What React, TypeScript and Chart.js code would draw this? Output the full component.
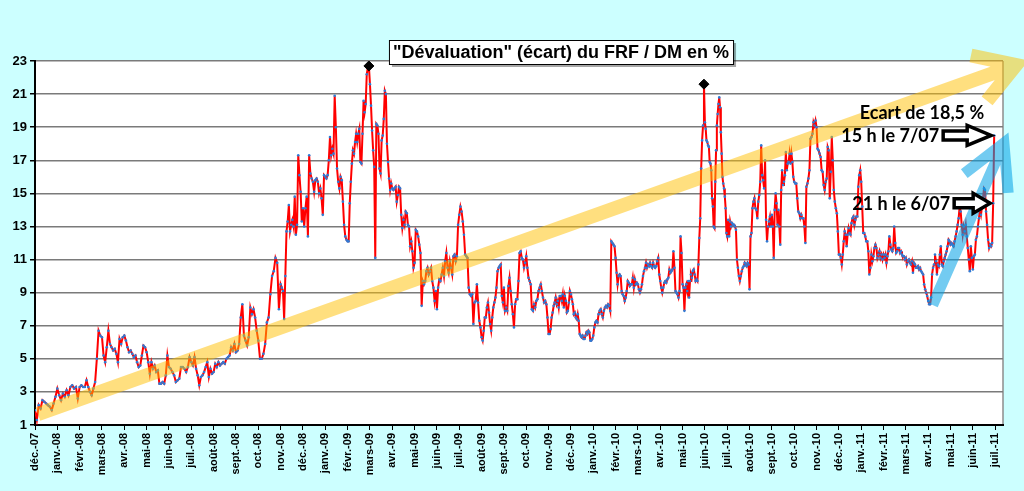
import { useEffect, useRef } from 'react';
import Chart from 'chart.js/auto';

// month ticks, déc. 2007 -> juil. 2011
const monthLabels = [
  'déc.-07',
  'janv.-08', 'févr.-08', 'mars-08', 'avr.-08', 'mai-08', 'juin-08',
  'juil.-08', 'août-08', 'sept.-08', 'oct.-08', 'nov.-08', 'déc.-08',
  'janv.-09', 'févr.-09', 'mars-09', 'avr.-09', 'mai-09', 'juin-09',
  'juil.-09', 'août-09', 'sept.-09', 'oct.-09', 'nov.-09', 'déc.-09',
  'janv.-10', 'févr.-10', 'mars-10', 'avr.-10', 'mai-10', 'juin-10',
  'juil.-10', 'août-10', 'sept.-10', 'oct.-10', 'nov.-10', 'déc.-10',
  'janv.-11', 'févr.-11', 'mars-11', 'avr.-11', 'mai-11', 'juin-11',
  'juil.-11',
];

const yTicks = [1, 3, 5, 7, 9, 11, 13, 15, 17, 19, 21, 23];

// écart FRF / DM in %, readings spread over each month
const readings2007 = [
  [1.9, 1.3, 2.2, 2.0, 2.5, 2.4, 2.3, 2.2, 2.1, 1.9, 2.3, 2.7],
];

const readings2008 = [
  [3.2, 2.8, 2.5, 2.9, 2.7, 3.1, 2.8, 3.3, 3.4, 3.2, 3.3, 2.6],
  [3.3, 3.4, 3.3, 3.3, 3.7, 3.3, 3.0, 2.8, 3.2, 3.6, 5.0, 6.7, 6.4],
  [6.3, 5.2, 4.8, 5.7, 6.7, 5.9, 5.7, 5.5, 5.6, 5.3, 4.8, 6.2, 5.9, 6.3],
  [6.4, 6.1, 5.7, 5.4, 5.5, 5.3, 5.1, 5.2, 4.8, 4.5, 4.6, 5.2, 5.8, 5.7],
  [5.4, 4.8, 4.1, 4.8, 4.4, 4.6, 4.2, 4.3, 3.5, 3.5, 3.6, 3.5, 4.0, 5.2],
  [4.5, 4.4, 4.2, 4.0, 3.6, 3.7, 3.8, 4.5, 4.5, 4.4, 4.2, 4.5, 5.1],
  [4.8, 4.6, 5.1, 4.4, 4.0, 3.4, 3.9, 4.0, 4.2, 4.5, 4.8, 3.9, 4.4, 4.1],
  [4.2, 4.7, 4.5, 4.8, 4.6, 4.7, 4.8, 4.7, 5.0, 5.1, 5.2, 5.7, 5.5, 5.9],
  [5.4, 5.5, 5.9, 7.5, 8.3, 6.4, 6.1, 5.8, 6.3, 8.1, 7.7, 8.0, 7.5, 6.7],
  [6.1, 5.0, 5.0, 5.3, 5.9, 7.2, 7.5, 8.9, 10.0, 10.3, 11.1, 10.8, 8.0],
  [9.5, 9.3, 9.1, 7.4, 10.0, 12.7, 13.3, 14.3, 12.7, 13.1, 13.4, 13.0, 14.8, 12.5, 13.1, 17.3, 16.1, 15.1, 13.3],
  [14.1, 13.0, 14.1, 14.8, 12.4, 17.3, 16.2, 15.9, 15.7, 15.1, 15.8, 15.9, 15.7, 15.0, 15.3, 14.7, 13.7, 16.1],
];

const readings2009 = [
  [16.0, 15.9, 16.1, 17.0, 18.4, 17.3, 17.7, 17.4, 20.9, 19.0, 16.5, 15.7, 15.3, 16.0, 15.8, 14.5, 13.1, 12.4, 12.2],
  [12.1, 12.1, 14.4, 15.7, 16.8, 17.6, 17.4, 18.1, 18.6, 18.1, 18.6, 18.9, 16.9, 16.8, 18.6, 20.6, 19.9, 20.4, 22.2, 22.6, 22.7],
  [21.6, 20.3, 18.8, 17.6, 16.6, 11.1, 19.2, 19.1, 18.6, 16.5, 16.2, 18.2, 18.5, 19.5, 21.2, 21.0, 18.0, 16.9, 15.9, 15.2, 15.6],
  [15.3, 15.2, 15.3, 15.4, 14.5, 14.9, 15.4, 15.3, 13.7, 12.9, 13.4, 13.1, 13.9, 13.8, 13.1, 13.0, 11.8, 12.1, 11.5, 10.5],
  [10.8, 12.8, 12.7, 12.4, 11.9, 11.4, 8.2, 9.7, 9.5, 9.7, 10.3, 10.5, 10.1, 10.3, 10.5, 9.7, 9.3, 8.5, 9.1],
  [8.0, 9.3, 9.8, 9.7, 10.1, 10.5, 10.0, 10.9, 11.4, 10.5, 10.2, 10.9, 10.5, 10.1, 11.2, 11.3, 10.9, 11.2, 13.1],
  [13.7, 14.2, 13.9, 13.3, 12.5, 11.3, 11.2, 11.1, 9.3, 8.9, 8.8, 8.9, 7.1, 8.4, 8.5, 9.5, 8.4, 7.3, 6.9],
  [6.3, 6.1, 6.7, 7.5, 7.5, 8.1, 8.4, 7.8, 7.1, 6.7, 7.5, 8.1, 8.4, 8.7, 9.3, 10.3, 10.5, 10.6, 10.7, 8.8, 8.4],
  [9.3, 7.9, 8.1, 7.9, 9.4, 9.9, 9.1, 8.3, 7.7, 6.9, 8.3, 8.6, 8.6, 9.7, 11.4, 11.5, 11.1, 11.0, 10.5, 10.8],
  [11.2, 10.5, 9.9, 9.7, 9.5, 8.0, 7.9, 8.3, 8.1, 8.5, 8.6, 9.1, 9.3, 9.5, 9.1, 8.7, 8.4, 8.5, 8.3, 7.5],
  [6.5, 6.5, 6.8, 7.5, 7.8, 8.2, 8.4, 8.7, 8.3, 8.5, 8.1, 8.8, 8.8, 8.5, 8.9, 8.1, 8.8, 8.5, 7.8, 7.9, 8.4, 9.1],
  [8.9, 8.6, 8.3, 7.7, 7.8, 7.5, 7.4, 7.7, 7.3, 6.5, 6.4, 6.3, 6.4, 6.2, 6.2, 6.4, 6.6, 6.5, 6.7, 6.6, 6.1, 6.1, 6.2],
];

const readings2010 = [
  [6.4, 6.9, 7.2, 7.3, 7.2, 7.7, 7.9, 8.0, 7.7, 7.5, 7.9, 8.1, 8.2, 8.1, 8.3, 8.2, 7.9, 12.1, 12.0, 11.9, 11.8],
  [11.1, 10.2, 9.5, 10.0, 10.1, 10.0, 9.1, 8.9, 8.8, 8.5, 8.7, 9.1, 9.7, 9.6, 9.4, 9.5, 9.5, 9.9, 9.3, 9.8, 9.5, 9.6],
  [9.5, 9.2, 9.0, 9.2, 9.5, 10.0, 10.3, 10.5, 10.8, 10.5, 10.7, 10.6, 10.8, 10.6, 10.5, 10.8, 10.6, 10.5, 10.6, 10.9, 11.1, 10.1],
  [9.7, 9.3, 9.0, 9.3, 9.6, 9.7, 9.6, 9.8, 9.9, 10.4, 10.2, 10.3, 10.4, 11.5, 10.5, 9.1, 9.0, 8.9, 8.7, 9.1, 12.4, 11.4],
  [9.5, 9.3, 7.9, 9.3, 9.5, 9.1, 9.7, 8.7, 9.7, 10.1, 9.9, 10.3, 10.4, 10.1, 9.7, 9.8, 9.7, 10.7, 12.3, 13.5, 16.5, 18.2, 19.1, 21.6],
  [19.3, 18.9, 18.2, 18.1, 17.9, 17.8, 16.9, 16.8, 16.4, 14.7, 14.2, 13.0, 12.9, 15.7, 17.6, 19.1, 19.8, 20.4, 20.8, 20.2, 18.7, 17.4, 16.0, 15.6, 15.3, 14.8, 14.1, 12.6],
  [12.4, 13.4, 12.4, 13.3, 13.0, 13.2, 13.1, 13.1, 13.0, 12.8, 11.0, 10.5, 10.0, 9.7, 10.0, 10.3, 10.5, 10.6, 10.8, 10.7, 10.6, 10.8, 10.7],
  [9.2, 12.4, 12.6, 14.1, 14.5, 14.7, 14.1, 14.0, 13.5, 14.5, 14.9, 15.7, 17.9, 16.1, 15.8, 15.3, 17.0, 13.4, 12.1, 13.0, 13.3, 13.6, 13.0],
  [13.7, 13.0, 11.1, 14.0, 15.0, 14.4, 13.1, 14.0, 13.0, 11.9, 15.2, 16.4, 15.5, 15.7, 16.1, 17.5, 16.4, 16.8, 16.9, 17.4, 16.8, 17.4, 16.9, 16.0],
  [15.7, 15.6, 15.6, 14.7, 13.9, 13.8, 13.5, 13.7, 13.5, 13.5, 13.0, 12.0, 15.4, 15.6, 15.9, 16.4, 18.3, 18.4, 18.6, 19.3, 19.1, 19.4],
  [19.0, 17.7, 17.6, 17.4, 17.2, 16.4, 16.3, 15.5, 15.2, 15.7, 15.9, 17.8, 17.6, 14.7, 16.3, 18.4, 17.0, 15.2, 14.5, 14.1, 13.8, 12.7],
  [11.3, 11.3, 11.1, 10.7, 11.3, 12.1, 12.7, 12.5, 11.8, 12.5, 12.9, 12.6, 12.5, 13.2, 13.5, 13.6, 13.1, 13.4, 13.6, 13.6, 15.4, 16.1, 16.4],
];

// june 2011 ends with the 6/07 21 h and 7/07 15 h quotes
const readings2011 = [
  [15.7, 14.2, 12.6, 12.6, 12.4, 12.1, 12.1, 11.5, 10.1, 10.5, 11.3, 10.9, 11.2, 11.7, 11.9, 11.7, 11.1, 11.3, 11.5, 11.1, 11.3, 11.0],
  [11.3, 11.1, 11.3, 10.8, 11.2, 11.5, 12.4, 11.9, 11.6, 11.5, 11.7, 13.0, 12.0, 11.4, 11.5, 11.7, 11.7, 11.4, 11.5, 11.3, 11.2, 11.2, 11.0],
  [11.1, 10.7, 10.9, 11.0, 10.8, 10.7, 10.9, 10.2, 10.8, 10.7, 10.5, 10.5, 10.6, 10.4, 10.5, 10.3, 10.2, 10.1, 9.5, 9.2, 9.0, 8.8],
  [8.5, 8.3, 8.3, 8.7, 10.1, 10.5, 10.7, 11.3, 10.9, 10.1, 10.7, 10.6, 11.3, 11.8, 10.7, 10.6, 10.9, 11.1, 11.3, 11.5, 11.8, 12.2, 12.1],
  [11.9, 12.0, 11.9, 11.8, 12.1, 12.4, 12.7, 13.1, 13.5, 14.2, 13.9, 13.1, 12.5, 13.0, 12.7, 13.1, 12.4, 11.7, 11.0, 10.3, 11.8, 11.1],
  [10.4, 11.2, 11.3, 12.2, 12.4, 13.0, 13.5, 14.0, 13.7, 14.2, 14.7, 15.3, 15.2, 13.9, 13.1, 12.2, 11.7, 11.9, 11.8, 12.0, 14.4, 18.5],
];

const lastQuoteLabels = ['21 h le 6/07', '15 h le 7/07'];
const gapLabel = 'Ecart de 18,5 %';
const titleText = '"Dévaluation" (écart) du FRF / DM en %';

const months = [...readings2007, ...readings2008, ...readings2009, ...readings2010, ...readings2011];
const points = months.flatMap((vals, m) => vals.map((v, i) => ({ x: m + i / vals.length, y: v })));

const peakOf = (list: { x: number; y: number }[]) => list.reduce((a, b) => (b.y > a.y ? b : a));
const peaks = [peakOf(points.filter((p) => p.x < 24)), peakOf(points.filter((p) => p.x >= 24))];

// trend arrows, in (month, %) units
const trendArrows = [
  { from: [0.13, 1.66], to: [43.93, 22.76], color: 'rgba(255,192,0,0.5)', width: 14, head: 46, spread: 0.55 },
  { from: [40.2, 8.25], to: [43.39, 18.04], color: 'rgba(0,160,230,0.55)', width: 11, head: 50, spread: 0.5 },
];

const AXIS_FONT = 'Liberation Sans, Arial, sans-serif';
const NOTE_FONT = 'Lato, "Open Sans", sans-serif';

function hollowArrow(ctx: CanvasRenderingContext2D, tipX: number, cy: number, len: number, headLen: number) {
  const sh = 4.5;
  const hh = 10;
  ctx.beginPath();
  ctx.moveTo(tipX - len, cy - sh);
  ctx.lineTo(tipX - headLen, cy - sh);
  ctx.lineTo(tipX - headLen, cy - hh);
  ctx.lineTo(tipX, cy);
  ctx.lineTo(tipX - headLen, cy + hh);
  ctx.lineTo(tipX - headLen, cy + sh);
  ctx.lineTo(tipX - len, cy + sh);
  ctx.closePath();
  ctx.fillStyle = '#fff';
  ctx.fill();
  ctx.lineWidth = 3.5;
  ctx.lineJoin = 'miter';
  ctx.strokeStyle = '#000';
  ctx.stroke();
}

const overlayPlugin = {
  id: 'overlay',
  beforeDraw(chart: any) {
    const { ctx, chartArea: a, width, height } = chart;
    ctx.save();
    ctx.fillStyle = '#ccffff';
    ctx.fillRect(0, 0, width, height);
    ctx.fillStyle = '#fff';
    ctx.fillRect(a.left, a.top, a.right - a.left, a.bottom - a.top);
    ctx.strokeStyle = '#8c8c8c';
    ctx.lineWidth = 1.5;
    ctx.beginPath();
    ctx.moveTo(a.right, a.top);
    ctx.lineTo(a.right, a.bottom);
    ctx.stroke();
    ctx.restore();
  },
  afterDatasetsDraw(chart: any) {
    const { ctx } = chart;
    const xs = chart.scales.x;
    const ys = chart.scales.y;
    ctx.save();
    for (const ar of trendArrows) {
      const x0 = xs.getPixelForValue(ar.from[0]);
      const y0 = ys.getPixelForValue(ar.from[1]);
      const x1 = xs.getPixelForValue(ar.to[0]);
      const y1 = ys.getPixelForValue(ar.to[1]);
      const ang = Math.atan2(y1 - y0, x1 - x0);
      ctx.strokeStyle = ar.color;
      ctx.lineWidth = ar.width;
      ctx.lineCap = 'butt';
      ctx.lineJoin = 'miter';
      ctx.beginPath();
      ctx.moveTo(x0, y0);
      ctx.lineTo(x1 - Math.cos(ang) * ar.width * 0.6, y1 - Math.sin(ang) * ar.width * 0.6);
      ctx.moveTo(x1 - ar.head * Math.cos(ang - ar.spread), y1 - ar.head * Math.sin(ang - ar.spread));
      ctx.lineTo(x1, y1);
      ctx.lineTo(x1 - ar.head * Math.cos(ang + ar.spread), y1 - ar.head * Math.sin(ang + ar.spread));
      ctx.stroke();
    }

    // last two quotes
    const last = points.slice(-2);
    const lens = [36, 48];
    const heads = [17, 24];
    ctx.font = `bold 18px ${NOTE_FONT}`;
    ctx.textAlign = 'right';
    ctx.textBaseline = 'middle';
    last.forEach((p, i) => {
      const px = xs.getPixelForValue(p.x) - 3;
      const py = ys.getPixelForValue(p.y);
      hollowArrow(ctx, px, py, lens[i], heads[i]);
      ctx.fillStyle = '#000';
      ctx.fillText(lastQuoteLabels[i], px - lens[i] - 4, py + 1);
    });
    const top = last[1];
    ctx.fillStyle = '#000';
    ctx.fillText(gapLabel, xs.getPixelForValue(top.x) - 10, ys.getPixelForValue(top.y) - 22);
    ctx.restore();
  },
  afterDraw(chart: any) {
    const { ctx } = chart;
    ctx.save();
    ctx.font = `bold 18px ${AXIS_FONT}`;
    const w = ctx.measureText(titleText).width + 8;
    const h = 24;
    const cx = 561;
    const bx = cx - w / 2;
    const by = 40;
    ctx.fillStyle = 'rgba(0,0,0,0.35)';
    ctx.fillRect(bx + 3, by + 3, w, h);
    ctx.fillStyle = '#fff';
    ctx.fillRect(bx, by, w, h);
    ctx.strokeStyle = '#000';
    ctx.lineWidth = 1;
    ctx.strokeRect(bx + 0.5, by + 0.5, w, h);
    ctx.fillStyle = '#000';
    ctx.textAlign = 'center';
    ctx.textBaseline = 'middle';
    ctx.fillText(titleText, cx, by + h / 2 + 1);
    ctx.restore();
  },
};

export default function App() {
  const canvasRef = useRef<HTMLCanvasElement | null>(null);

  useEffect(() => {
    if (!canvasRef.current) return;
    const chart = new Chart(canvasRef.current, {
      type: 'line',
      data: {
        datasets: [
          {
            label: 'maxima',
            data: peaks,
            showLine: false,
            pointStyle: 'rectRot',
            pointRadius: 5,
            pointBackgroundColor: '#000',
            pointBorderColor: '#000',
          },
          {
            label: 'écart',
            data: points,
            borderColor: '#ff0000',
            borderWidth: 2,
            tension: 0,
            pointRadius: 1.3,
            pointBorderWidth: 0,
            pointBackgroundColor: '#2e7bd6',
          },
        ],
      },
      options: {
        animation: false,
        responsive: true,
        maintainAspectRatio: false,
        events: [],
        layout: { padding: { top: 61, right: 21, bottom: 0, left: 0 } },
        plugins: { legend: { display: false }, tooltip: { enabled: false } },
        scales: {
          x: {
            type: 'linear',
            min: 0,
            max: 43.35,
            afterBuildTicks: (s: any) => {
              s.ticks = monthLabels.map((_, i) => ({ value: i }));
            },
            afterFit: (s: any) => {
              s.height = 66;
            },
            ticks: {
              autoSkip: false,
              minRotation: 90,
              maxRotation: 90,
              padding: 3,
              color: '#000',
              font: { family: AXIS_FONT, size: 11, weight: 'bold' },
              callback: (v: any) => monthLabels[Math.round(Number(v))] ?? '',
            },
            grid: { drawOnChartArea: false, tickLength: 5, tickColor: '#000' },
            border: { color: '#000', width: 2 },
          },
          y: {
            min: 1,
            max: 23,
            afterBuildTicks: (s: any) => {
              s.ticks = yTicks.map((v) => ({ value: v }));
            },
            afterFit: (s: any) => {
              s.width = 35;
            },
            ticks: {
              padding: 3,
              color: '#000',
              font: { family: AXIS_FONT, size: 13, weight: 'bold' },
            },
            grid: { color: '#7a7a7a', lineWidth: 1.5, tickLength: 5, tickColor: '#000' },
            border: { color: '#000', width: 2 },
          },
        },
      },
      plugins: [overlayPlugin],
    });
    return () => chart.destroy();
  }, []);

  return (
    <div style={{ position: 'fixed', left: 0, top: 0, width: 1024, height: 491, background: '#ccffff' }}>
      <canvas ref={canvasRef} />
    </div>
  );
}
